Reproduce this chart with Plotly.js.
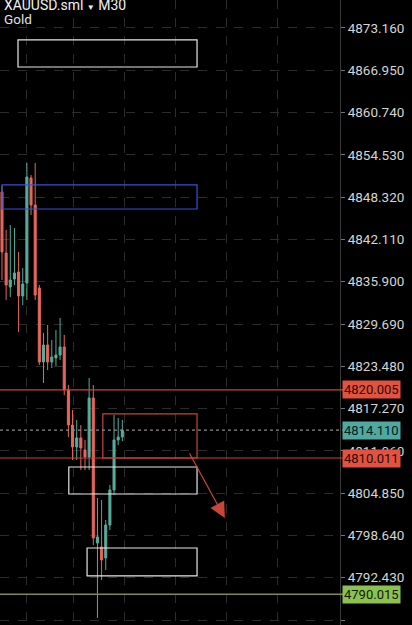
<!DOCTYPE html>
<html>
<head>
<meta charset="utf-8">
<script src="https://cdn.plot.ly/plotly-3.0.1.min.js"></script>
<style>html,body{margin:0;padding:0;background:#000;}#chart{width:412px;height:625px;}</style>
</head>
<body>
<div id="chart"></div>
<script>
// ---- data ----
const candleIndex = [0,1,2,3,4,5,6,7,8,9,10,11,12,13,14,15,16,17,18,19,20,21,22,23,24,25,26,27,28,29];
const openP  = [4849.08,4840.12,4835.13,4836.30,4837.33,4833.81,4835.71,4851.13,4847.17,4834.98,4824.12,4826.61,4824.12,4824.70,4825.14,4826.32,4820.00,4814.86,4811.63,4812.96,4811.19,4810.17,4818.83,4797.54,4796.95,4795.33,4800.18,4805.32,4812.66,4813.10];
const highP  = [4849.96,4843.50,4844.23,4843.79,4840.27,4837.92,4853.34,4851.57,4853.34,4835.42,4828.38,4829.55,4827.34,4828.81,4830.58,4828.08,4820.74,4817.07,4815.60,4814.86,4812.66,4821.77,4820.74,4804.14,4803.85,4800.91,4806.05,4816.33,4815.89,4815.60];
const lowP   = [4836.16,4833.22,4833.66,4835.42,4828.52,4832.48,4833.22,4845.70,4833.22,4823.67,4821.03,4822.94,4823.23,4823.53,4824.41,4819.27,4813.10,4809.72,4809.72,4808.25,4808.25,4808.25,4797.24,4786.52,4792.10,4793.57,4799.44,4804.58,4811.93,4812.50];
const closeP = [4840.27,4835.42,4836.16,4837.18,4833.81,4835.57,4851.28,4847.17,4833.95,4824.12,4826.61,4824.12,4824.85,4825.14,4826.32,4820.00,4814.86,4811.63,4812.96,4811.49,4810.17,4818.83,4798.27,4798.42,4795.04,4800.18,4805.32,4812.66,4813.10,4814.11];

const priceTicks = [4873.160,4866.950,4860.740,4854.530,4848.320,4842.110,4835.900,4829.690,4823.480,4817.270,4811.060,4804.850,4798.640,4792.430,4786.220];

const symbolName = "XAUUSD.sml";
const timeframe = "M30";
const instrument = "Gold";

const resistanceLevel = 4820.005;
const supportLevel = 4810.011;
const lowLevel = 4790.015;
const lastPrice = 4814.110;

// zones: [top, bottom]
const topZone = [4871.40, 4867.43];
const blueZone = [4850.11, 4846.58];
const redZone = [4816.48, 4810.011];
const midZone = [4808.69, 4804.73];
const lowZone = [4796.80, 4792.69];
const arrowFrom = [45, 4810.9];
const arrowTo = [53.7, 4801.2];

// ---- styles ----
const RED = '#e5675c';
const GREEN = '#56ad9b';
const LINE_RED = '#c8453a';

const trace = {
  type: 'candlestick',
  x: candleIndex, open: openP, high: highP, low: lowP, close: closeP,
  increasing: {line: {color: GREEN, width: 1}, fillcolor: GREEN},
  decreasing: {line: {color: RED, width: 1}, fillcolor: RED},
  whiskerwidth: 0,
  hoverinfo: 'skip'
};

function rect(x0, x1, zone, color, w) {
  return {type: 'rect', xref: 'x', yref: 'y', x0: x0, x1: x1, y0: zone[0], y1: zone[1],
          line: {color: color, width: w || 1.2}, fillcolor: 'rgba(0,0,0,0)'};
}
function hline(y, color, dash, w) {
  return {type: 'line', xref: 'paper', yref: 'y', x0: 0, x1: 1.01, y0: y, y1: y,
          line: {color: color, width: w || 1.2, dash: dash || 'solid'}};
}

const shapes = [
  rect(3.86, 47, topZone, '#e6e6e6'),
  rect(0, 47, blueZone, '#3d4fd6'),
  rect(24.3, 47, redZone, LINE_RED),
  rect(16.1, 47, midZone, '#e6e6e6'),
  rect(20.5, 47, lowZone, '#e6e6e6'),
  hline(resistanceLevel, LINE_RED),
  hline(supportLevel, LINE_RED),
  hline(lowLevel, '#7f8a5c', 'solid', 1.5),
  hline(lastPrice, '#8a8a8a', 'dot', 1.2)
];

function priceLabel(v, bg, fg) {
  return {xref: 'paper', yref: 'y', x: 1, y: v, xanchor: 'left', yanchor: 'middle', xshift: 2,
          text: v.toFixed(3), showarrow: false, bgcolor: bg, borderpad: 1,
          font: {family: 'Roboto, sans-serif', size: 13, color: fg}};
}

const annotations = [
  {xref: 'paper', yref: 'paper', x: 0, y: 1, xanchor: 'left', yanchor: 'middle', xshift: 2, yshift: -5,
   text: symbolName + ' <span style="font-size:8px">▼</span> ' + timeframe, showarrow: false,
   font: {family: 'Roboto, sans-serif', size: 14, color: '#f0f0f0'}},
  {xref: 'paper', yref: 'paper', x: 0, y: 1, xanchor: 'left', yanchor: 'middle', xshift: 2, yshift: -19,
   text: instrument, showarrow: false,
   font: {family: 'Roboto, sans-serif', size: 13.5, color: '#e0e0e0'}},
  priceLabel(resistanceLevel, '#e2533f', '#2a0805'),
  priceLabel(lastPrice, '#4fa9a0', '#06201c'),
  priceLabel(supportLevel, '#e2533f', '#2a0805'),
  priceLabel(lowLevel, '#8cc152', '#0f1a05'),
  {xref: 'x', yref: 'y', axref: 'x', ayref: 'y', x: arrowTo[0], y: arrowTo[1], ax: arrowFrom[0], ay: arrowFrom[1],
   showarrow: true, arrowhead: 2, arrowsize: 2.6, arrowwidth: 1.2, arrowcolor: LINE_RED, text: ''}
];

const layout = {
  width: 412, height: 625,
  margin: {l: 0, r: 72, t: 0, b: 0, pad: 0},
  paper_bgcolor: '#000', plot_bgcolor: '#000',
  showlegend: false,
  xaxis: {range: [-0.48, 81.45], rangeslider: {visible: false}, showticklabels: false,
          tickvals: [6, 17.35, 29.6, 41.9, 54.2, 66.3], ticks: '',
          showgrid: true, gridcolor: '#2c2c2c', griddash: 'dash', gridwidth: 1,
          zeroline: false, showline: false, fixedrange: true},
  yaxis: {side: 'right', range: [4785.49, 4877.27], tickvals: priceTicks,
          ticktext: priceTicks.map(v => v.toFixed(3)),
          ticks: 'outside', ticklen: 4, tickcolor: '#777', tickwidth: 1,
          tickfont: {family: 'Roboto, sans-serif', size: 13.5, color: '#d4d4d4'},
          showgrid: true, gridcolor: '#2c2c2c', griddash: 'dash', gridwidth: 1,
          showline: true, linecolor: '#3a3a3a', linewidth: 1,
          zeroline: false, fixedrange: true},
  shapes: shapes,
  annotations: annotations
};

Plotly.newPlot('chart', [trace], layout, {displayModeBar: false, staticPlot: true});
</script>
</body>
</html>
